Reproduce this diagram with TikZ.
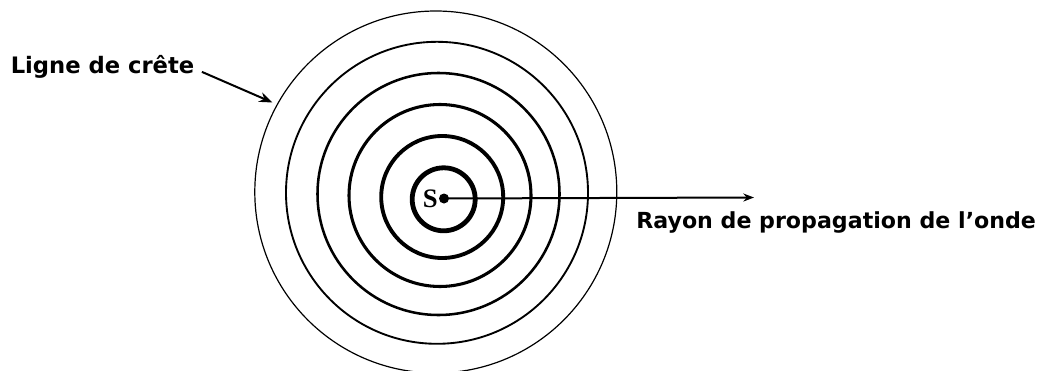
\documentclass[tikz,border=0pt]{standalone}
\usepackage{fontspec}
\setmainfont{Liberation Serif}
\newfontfamily\labelfont{DejaVu Sans}
\usetikzlibrary{arrows.meta}

\begin{document}
\begin{tikzpicture}[x=0.75pt, y=-0.75pt, line join=round, >={Stealth[length=8pt,width=6pt]}]
  \useasboundingbox (0,0) rectangle (1039,371);

  % ========================================================
  % 1. WAVE CRESTS AROUND THE SOURCE (thick inside, thin outside)
  % ========================================================
  \draw[line width=3.6pt] (443.7,199.3) circle (31.5);
  \draw[line width=2.9pt] (442.2,197.0) circle (61);
  \draw[line width=2.3pt] (440.0,195.5) circle (91);
  \draw[line width=1.9pt] (438.5,194.0) circle (121);
  \draw[line width=1.4pt] (437.0,192.8) circle (151);
  \draw[line width=0.9pt] (435.8,192.0) circle (181);

  % ========================================================
  % 2. SOURCE POINT AND RAY
  % ========================================================
  \node[circle, fill=black, inner sep=0pt, minimum size=7.5pt] (src) at (444,198.5) {};
  \node[anchor=east, inner sep=0.5pt, font=\bfseries\fontsize{20}{20}\selectfont] (srclab) at (src.west) {S};

  \coordinate (rayend) at (754,197.5);
  \draw[line width=1.5pt, ->] (src.center) -- (rayend);

  % ========================================================
  % 3. LABELS
  % ========================================================
  \node[anchor=base west, inner sep=0pt, font=\labelfont\bfseries\fontsize{16.6}{18}\selectfont] (raylab) at (636,228.3) {Rayon de propagation de l’onde};

  \node[anchor=base west, inner sep=0pt, font=\labelfont\bfseries\fontsize{17}{18}\selectfont] (crestlab) at (10.5,73.3) {Ligne de crête};
  \coordinate (crestpt) at (272.5,102.5);
  \draw[line width=1.5pt, -{Stealth[length=10pt,width=7.5pt]}, shorten <=6pt] ([yshift=-1.5pt]crestlab.east) -- (crestpt);

\end{tikzpicture}
\end{document}
